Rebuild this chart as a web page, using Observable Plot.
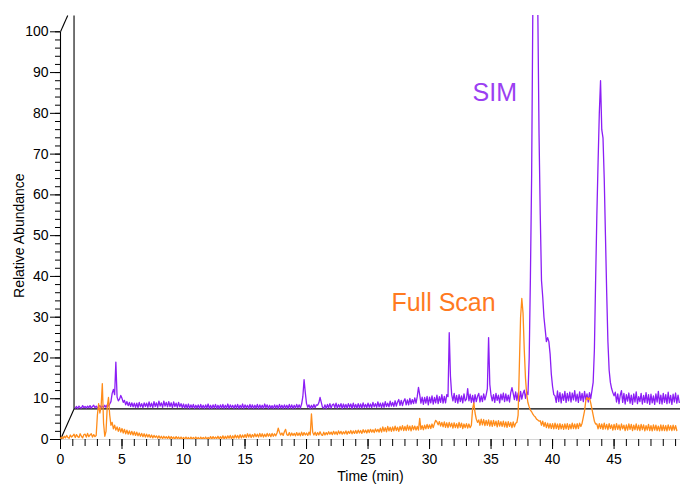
<!DOCTYPE html>
<html>
<head>
<meta charset="utf-8">
<script src="https://cdn.jsdelivr.net/npm/d3@7"></script>
<script src="https://cdn.jsdelivr.net/npm/@observablehq/plot@0.6"></script>
<style>
  html, body { margin: 0; padding: 0; background: #fff; }
</style>
</head>
<body>
<div id="chart"></div>
<script>
// Full Scan chromatogram, relative abundance (%) sampled every 0.1 min from 0.0 min
const fullScan = [
  0.3,0.6,0.2,0.8,0.4,1.0,0.5,0.3,1.1,0.6,
  0.9,1.3,0.5,1.2,0.7,0.5,1.4,0.8,0.4,1.2,
  1.3,0.6,1.5,0.7,1.1,1.4,0.6,1.2,0.7,1.0,
  6.0,8.8,6.5,8.0,13.7,4.0,0.8,2.0,8.0,10.3,
  6.0,3.5,4.2,2.6,3.5,2.3,3.1,2.0,2.9,1.8,
  2.7,1.6,2.5,1.4,2.3,1.3,2.1,1.2,2.0,1.1,
  1.9,1.0,1.8,0.9,1.6,0.8,1.5,0.7,1.4,0.6,
  1.3,0.6,1.2,0.5,1.1,0.4,1.0,0.5,0.9,0.3,
  0.9,0.3,0.8,0.2,0.8,0.3,0.7,0.2,0.8,0.1,
  0.7,0.2,0.6,0.1,0.7,0.2,0.6,0.1,0.6,0.1,
  0.5,0.1,0.6,0.1,0.5,0.0,0.6,0.1,0.5,0.1,
  0.6,0.1,0.5,0.0,0.6,0.1,0.5,0.1,0.6,0.1,
  0.5,0.1,0.7,0.1,0.7,0.2,0.6,0.2,0.8,0.1,
  0.7,0.2,0.9,0.1,0.8,0.2,0.9,0.3,1.0,0.2,
  0.9,0.3,1.1,0.4,1.0,0.3,1.2,0.4,1.1,0.5,
  1.2,0.5,1.4,0.6,1.3,0.5,1.2,0.6,1.4,0.7,
  1.3,0.6,1.5,0.7,1.4,0.6,1.3,0.7,1.5,0.8,
  1.4,0.7,1.5,0.8,1.4,0.9,1.6,2.8,1.8,1.1,
  1.6,1.0,1.9,2.5,1.2,1.0,1.7,0.9,1.6,1.0,
  1.5,0.9,1.7,1.0,1.6,0.9,1.8,1.0,1.7,1.1,
  1.6,1.0,1.8,1.1,6.3,1.8,1.1,1.8,1.0,1.7,
  1.1,1.9,1.2,1.0,1.8,1.1,1.7,1.2,1.9,1.3,
  1.8,1.2,2.0,1.3,1.9,1.2,2.1,1.4,2.0,1.3,
  1.9,1.4,2.1,1.3,2.0,1.5,2.2,1.4,2.1,1.5,
  2.2,1.5,2.3,1.6,2.2,1.5,2.4,1.7,2.3,1.6,
  2.4,1.7,2.5,1.8,2.4,1.7,2.6,1.9,2.5,1.8,
  2.8,1.8,3.1,2.0,2.9,1.9,3.2,2.1,3.0,2.0,
  3.1,2.1,3.3,2.2,3.0,2.0,3.2,2.3,3.4,2.2,
  3.2,2.2,3.5,2.3,3.3,2.1,3.4,2.4,3.3,2.3,
  3.2,2.3,5.2,2.5,3.4,2.4,3.5,2.6,3.7,2.7,
  3.6,2.7,3.8,2.9,3.9,4.7,4.3,3.6,4.4,3.3,
  4.2,3.1,4.3,3.0,4.1,2.9,4.2,3.1,4.0,2.8,
  4.1,2.9,3.9,2.8,4.2,3.0,4.0,2.7,3.8,2.9,
  3.9,2.8,3.8,2.9,3.5,7.5,9.0,6.5,5.0,4.2,
  4.8,3.5,5.0,3.6,4.9,3.4,4.7,3.5,4.8,3.3,
  4.6,3.2,4.7,3.4,4.5,3.1,4.6,3.3,4.4,3.2,
  4.5,3.1,4.3,3.0,4.4,3.2,4.2,2.9,4.3,3.1,
  4.0,4.2,6.0,18.0,30.0,34.6,31.0,22.0,15.0,11.0,
  9.0,8.0,7.2,6.8,6.2,5.8,5.5,5.0,4.8,4.5,
  4.6,3.5,4.5,3.2,4.2,2.9,4.0,2.8,3.9,2.7,
  3.9,2.6,4.0,2.7,3.8,2.5,3.9,2.6,3.7,2.5,
  3.8,2.6,3.9,2.5,3.7,2.6,4.0,2.7,3.8,2.6,
  3.9,2.7,4.0,3.2,4.0,5.5,7.0,9.5,10.3,9.8,
  10.2,9.0,7.5,6.0,4.5,3.8,3.8,2.6,3.9,2.7,
  3.8,2.5,4.0,2.6,3.7,2.4,3.9,2.7,3.6,2.3,
  3.7,2.4,3.9,2.5,3.6,2.3,3.8,2.6,3.5,2.2,
  3.6,2.3,3.8,2.5,3.7,2.2,3.5,2.4,3.8,2.3,
  3.5,2.2,3.7,2.4,3.6,2.1,3.4,2.3,3.7,2.2,
  3.4,2.1,3.6,2.3,3.5,2.2,3.3,2.1,3.6,2.2,
  3.5,2.2,3.4,2.1,3.6,2.3,3.4,2.2,3.5,2.3,
  3.4,2.2
];

// SIM chromatogram, relative abundance (%) sampled every 0.1 min from 0.1 min
const sim = [
  0.2,0.6,0.1,0.7,0.3,0.2,0.8,0.3,0.6,0.2,
  0.7,0.3,0.8,0.2,0.6,0.9,0.3,0.7,0.2,0.6,
  0.8,0.3,0.7,0.4,0.9,0.4,1.0,0.7,1.2,1.8,
  3.8,4.8,3.5,11.5,2.9,2.0,2.4,3.3,2.6,1.6,
  2.1,1.0,1.8,0.8,1.6,0.6,1.5,0.5,1.4,0.4,
  1.4,0.3,1.6,0.5,1.3,0.3,1.5,0.6,1.4,0.4,
  1.7,0.5,1.4,0.3,1.8,0.6,1.5,0.4,1.9,0.7,
  1.5,0.4,1.9,0.7,1.6,0.5,1.8,0.6,1.5,0.3,
  1.7,0.6,1.4,0.4,1.6,0.5,1.3,0.3,1.2,0.2,
  1.1,0.2,1.2,0.1,1.0,0.3,1.1,0.1,0.9,0.2,
  1.0,0.1,1.1,0.2,0.9,0.1,1.0,0.2,1.2,0.1,
  0.9,0.1,1.0,0.2,1.1,0.1,0.9,0.1,1.0,0.2,
  1.1,0.1,0.9,0.2,1.2,0.1,1.0,0.3,0.9,0.1,
  1.0,0.2,1.1,0.1,0.9,0.2,1.2,0.1,1.0,0.3,
  0.9,0.1,1.1,0.2,1.0,0.1,0.9,0.2,1.1,0.1,
  1.0,0.2,0.9,0.1,1.2,0.3,1.0,0.1,0.9,0.2,
  0.8,0.1,1.0,0.2,0.9,0.1,1.1,0.2,0.9,0.1,
  1.0,0.2,0.9,0.1,1.1,0.2,1.0,0.1,0.9,0.2,
  1.1,0.3,1.0,0.2,1.2,3.0,7.2,4.0,1.3,0.4,
  1.0,0.1,0.9,0.2,1.1,0.3,1.0,0.9,1.5,2.8,
  1.6,0.4,0.2,1.0,0.1,1.1,0.3,1.3,0.2,1.0,
  1.2,0.3,1.4,0.2,1.1,0.4,1.3,0.1,1.2,0.3,
  1.1,0.2,1.3,0.4,1.2,0.1,1.4,0.3,1.1,0.2,
  1.3,0.3,1.2,0.2,1.5,0.4,1.1,0.3,1.4,0.4,
  1.2,0.3,1.6,0.5,1.3,0.4,1.7,0.5,1.4,0.3,
  1.5,0.4,1.8,0.6,1.4,0.5,1.9,0.7,1.6,0.6,
  2.0,0.7,1.7,2.3,0.9,2.1,0.8,1.9,2.5,1.0,
  2.2,1.0,2.6,1.2,2.3,1.3,2.7,1.4,3.0,5.3,
  3.5,1.4,2.9,1.1,2.8,1.4,3.1,1.0,2.9,1.5,
  3.2,1.2,2.8,1.5,3.4,1.3,3.0,1.6,3.5,1.4,
  3.1,1.5,3.5,3.0,18.7,8.0,3.5,2.0,3.8,1.6,
  3.3,1.4,3.5,1.8,3.2,1.5,3.7,2.0,2.4,5.0,
  2.0,3.6,1.6,3.3,1.4,3.5,1.8,3.1,3.8,1.7,
  3.2,1.8,3.7,2.2,3.4,5.0,17.5,6.0,3.3,2.0,
  3.5,1.6,3.8,2.1,3.4,1.5,3.6,2.2,3.9,1.8,
  3.7,2.0,3.4,1.7,4.0,5.2,3.8,2.3,4.2,2.1,
  3.9,1.9,4.3,2.4,3.8,4.6,2.6,4.2,3.5,12.5,
  32.5,57.5,100,99,98.5,99,98,67.5,47.5,31.5,
  27.5,22.5,19.5,16.5,17.5,16.5,13.5,8.5,5.5,3.5,
  3.2,1.6,4.4,1.8,4.0,1.5,3.7,2.1,4.3,1.6,
  3.8,2.0,4.1,1.7,3.9,2.2,4.5,1.9,3.6,1.6,
  4.2,2.1,3.8,1.8,4.3,2.3,3.7,1.7,4.0,2.5,
  4.5,6.5,14.5,31.5,47.5,60.5,72.5,80.5,68.5,66.5,
  56.5,42.5,28.5,16.5,9.5,6.5,5.0,4.0,3.2,4.1,
  1.7,3.7,1.3,3.3,4.5,1.6,3.8,1.2,3.5,1.9,
  3.9,1.4,3.4,1.1,3.7,1.7,4.2,1.3,3.0,1.8,
  3.8,1.2,3.3,1.6,4.0,1.4,3.5,1.1,3.6,1.5,
  3.2,1.1,3.7,1.7,4.3,1.3,3.4,1.2,3.8,1.6,
  3.5,1.3,4.1,1.5,3.3,1.1,3.6,1.7,3.9,1.4,
  3.4,1.6
];

const sampleStep = 0.1;      // min between scans
const fullScanStart = 0.0;   // min
const simStart = 0.1;        // min

// Tick values and labels
const xMajorTicks = [0, 5, 10, 15, 20, 25, 30, 35, 40, 45];
const xMinorTicks = d3.range(0, 51, 1);
const yMajorTicks = [0, 10, 20, 30, 40, 50, 60, 70, 80, 90, 100];
const yMinorTicks = d3.range(0, 101, 2);
const seriesNames = ["SIM", "Full Scan"];
const xTitle = "Time (min)";
const yTitle = "Relative Abundance";

// Stacked (pseudo-3D) layout: the SIM trace sits behind, shifted right and up
const xMax = 50.4;
const yMax = 104;
const shiftX = 1.1;
const shiftY = 7.5;

const fullRows = fullScan.map((v, i) => ({t: fullScanStart + i * sampleStep, v}));
const simRows = sim.map((v, i) => ({t: simStart + i * sampleStep + shiftX, v: v + shiftY}));

// Outline of the back plane: axis line, two diagonals, back baseline and back wall
const frame = [
  {x1: 0, y1: 0, x2: 0, y2: 100},
  {x1: 0, y1: 0, x2: shiftX, y2: shiftY},
  {x1: 0, y1: 100, x2: shiftX * (yMax - 100) / shiftY, y2: yMax},
  {x1: shiftX, y1: shiftY, x2: xMax, y2: shiftY},
  {x1: shiftX, y1: shiftY, x2: shiftX, y2: yMax}
];

const simColor = "#8b1ef5";
const fullColor = "#ff8c1a";

const chart = Plot.plot({
  width: 680,
  height: 484,
  marginLeft: 60,
  marginRight: 0,
  marginTop: 15,
  marginBottom: 45,
  x: {domain: [0, xMax]},
  y: {domain: [0, yMax]},
  style: {
    fontFamily: "'Liberation Sans', Arial, Helvetica, sans-serif",
    fontSize: "14px",
    color: "#000",
    background: "#fff",
    overflow: "visible"
  },
  marks: [
    Plot.ruleY([0], {x1: () => 0, x2: () => xMax, stroke: "#d6d6d6"}),
    Plot.axisY({ticks: yMinorTicks, tickSize: 5, tickFormat: () => "", label: null}),
    Plot.axisY({ticks: yMajorTicks, tickSize: 10, tickPadding: 2, label: null, fontSize: 14}),
    Plot.axisX({ticks: xMinorTicks, tickSize: 7, tickFormat: () => "", label: null}),
    Plot.axisX({ticks: xMajorTicks, tickSize: 10, tickPadding: 5, label: null, fontSize: 14}),
    Plot.link(frame, {x1: "x1", y1: "y1", x2: "x2", y2: "y2", stroke: "#000", strokeWidth: 1.1}),
    Plot.line(simRows, {x: "t", y: "v", stroke: simColor, strokeWidth: 1.3, clip: true}),
    Plot.line(fullRows, {x: "t", y: "v", stroke: fullColor, strokeWidth: 1.3, clip: true}),
    Plot.text([seriesNames[0]], {
      text: d => d, x: () => 33.5, y: () => 85.1,
      textAnchor: "start", fontSize: 25, fill: "#9b3ff2"
    }),
    Plot.text([seriesNames[1]], {
      text: d => d, x: () => 26.9, y: () => 33.4,
      textAnchor: "start", fontSize: 25, fill: "#ff7a1f"
    }),
    Plot.text([xTitle], {
      text: d => d, frameAnchor: "bottom", textAnchor: "middle",
      lineAnchor: "bottom", dy: 41, fontSize: 14
    }),
    Plot.text([yTitle], {
      text: d => d, y: () => 50, frameAnchor: "left", dx: -40.5,
      textAnchor: "middle", lineAnchor: "middle", rotate: -90, fontSize: 14
    })
  ]
});

document.getElementById("chart").appendChild(chart);
</script>
</body>
</html>
